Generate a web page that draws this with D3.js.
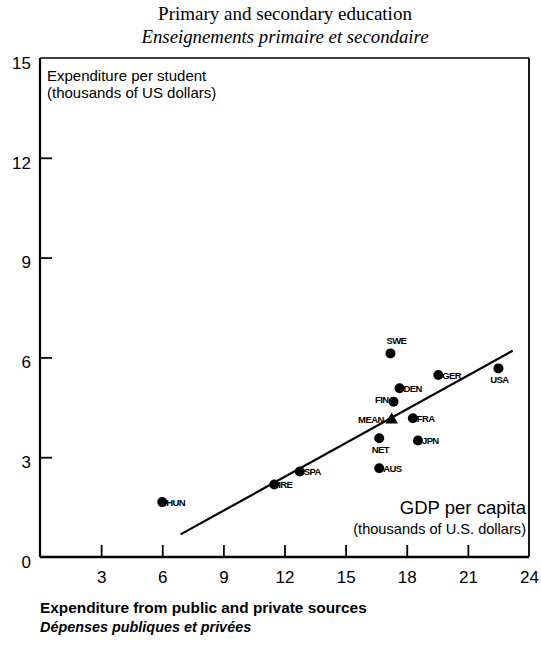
<!DOCTYPE html>
<html>
<head>
<meta charset="utf-8">
<script src="https://cdn.jsdelivr.net/npm/d3@7/dist/d3.min.js"></script>
<style>
  html, body { margin: 0; padding: 0; background: #fff; }
  svg { display: block; }
</style>
</head>
<body>
<svg id="chart" width="541" height="645"></svg>
<script>
// ---- data ----
const countries = ["SWE", "GER", "USA", "DEN", "FIN", "FRA", "NET", "JPN", "AUS", "SPA", "IRE", "HUN"];
const gdpPerCapita = [17.2, 19.55, 22.5, 17.65, 17.35, 18.3, 16.65, 18.55, 16.65, 12.75, 11.5, 6.0];
const expenditurePerStudent = [6.12, 5.47, 5.67, 5.07, 4.67, 4.17, 3.57, 3.5, 2.67, 2.57, 2.18, 1.65];
const meanPoint = { label: "MEAN", gdp: 17.26, exp: 4.12 };
const trendX = [6.9, 23.2];
const trendY = [0.68, 6.2];
const xTicks = [3, 6, 9, 12, 15, 18, 21, 24];
const yTicks = [0, 3, 6, 9, 12, 15];

const titleEn = "Primary and secondary education";
const titleFr = "Enseignements primaire et secondaire";
const yTitle = ["Expenditure per student", "(thousands of US dollars)"];
const xTitle = ["GDP per capita", "(thousands of U.S. dollars)"];
const footer = ["Expenditure from public and private sources", "Dépenses publiques et privées"];

// label placement relative to marker
const placement = {
  SWE: "above", GER: "right", USA: "below", DEN: "right", FIN: "left",
  FRA: "right", NET: "below", JPN: "right", AUS: "right", SPA: "right",
  IRE: "right", HUN: "right"
};

// ---- drawing ----
const svg = d3.select("#chart");
const x = d3.scaleLinear().domain([0, 24]).range([40, 529]);
const y = d3.scaleLinear().domain([0, 15]).range([557, 58]);

const sans = "'Liberation Sans', Arial, sans-serif";
const serif = "'Liberation Serif', 'Times New Roman', serif";

// titles
svg.append("text").attr("x", 285).attr("y", 20).attr("text-anchor", "middle")
  .attr("font-family", serif).attr("font-size", 19).text(titleEn);
svg.append("text").attr("x", 285).attr("y", 43).attr("text-anchor", "middle")
  .attr("font-family", serif).attr("font-size", 18.8).attr("font-style", "italic").text(titleFr);

// frame
const [x0, x1] = x.range();
const [yb, yt] = y.range();
svg.append("line").attr("x1", x0).attr("x2", x1).attr("y1", yt).attr("y2", yt)
  .attr("stroke", "#000").attr("stroke-width", 1.6);
svg.append("line").attr("x1", x1).attr("x2", x1).attr("y1", yt).attr("y2", yb)
  .attr("stroke", "#000").attr("stroke-width", 1.8);
svg.append("line").attr("x1", x0).attr("x2", x0).attr("y1", yt).attr("y2", yb)
  .attr("stroke", "#000").attr("stroke-width", 2.2);
svg.append("line").attr("x1", x0).attr("x2", x1).attr("y1", yb).attr("y2", yb)
  .attr("stroke", "#000").attr("stroke-width", 2.4);

// axes
const yAxis = svg.append("g").attr("transform", `translate(${x0},0)`)
  .call(d3.axisLeft(y).tickValues(yTicks).tickSize(-12).tickPadding(9).tickFormat(d3.format("d")));
yAxis.select(".domain").remove();
yAxis.selectAll(".tick line").attr("stroke-width", 1.8)
  .attr("display", d => (d === 0 || d === 15) ? "none" : null);
yAxis.selectAll(".tick text").attr("font-family", sans).attr("font-size", 17)
  .attr("fill", "#000").attr("dy", "0.6em");

const xAxis = svg.append("g").attr("transform", `translate(0,${yb})`)
  .call(d3.axisBottom(x).tickValues(xTicks).tickSize(-12).tickPadding(14).tickFormat(d3.format("d")));
xAxis.select(".domain").remove();
xAxis.selectAll(".tick line").attr("stroke-width", 1.8)
  .attr("display", d => d === 24 ? "none" : null);
xAxis.selectAll(".tick text").attr("font-family", sans).attr("font-size", 17).attr("fill", "#000");

// axis titles in the box
svg.append("text").attr("font-family", sans).attr("font-size", 15)
  .selectAll("tspan").data(yTitle).join("tspan")
  .attr("x", 47).attr("y", (d, i) => 81 + i * 17).text(d => d);

svg.append("text").attr("font-family", sans).attr("text-anchor", "end")
  .selectAll("tspan").data(xTitle).join("tspan")
  .attr("font-size", (d, i) => i === 0 ? 18.5 : 14.6)
  .attr("x", 526).attr("y", (d, i) => 514 + i * 20).text(d => d);

// trend line
svg.append("line")
  .attr("x1", x(trendX[0])).attr("y1", y(trendY[0]))
  .attr("x2", x(trendX[1])).attr("y2", y(trendY[1]))
  .attr("stroke", "#000").attr("stroke-width", 2.2);

// points
const pts = countries.map((c, i) => ({ c, gx: gdpPerCapita[i], ey: expenditurePerStudent[i] }));
svg.append("g").selectAll("circle").data(pts).join("circle")
  .attr("cx", d => x(d.gx)).attr("cy", d => y(d.ey)).attr("r", 5).attr("fill", "#000");

// mean triangle
const mx = x(meanPoint.gdp), my = y(meanPoint.exp);
svg.append("path")
  .attr("d", d3.symbol().type(d3.symbolTriangle).size(70)())
  .attr("transform", `translate(${mx},${my})`).attr("fill", "#000");

// labels
const lab = svg.append("g").attr("font-family", sans).attr("font-size", 9.5)
  .attr("font-weight", "bold").attr("letter-spacing", -0.6);
pts.forEach(d => {
  const px = x(d.gx), py = y(d.ey);
  const p = placement[d.c];
  const t = lab.append("text").text(d.c);
  if (p === "right") t.attr("x", px + 4).attr("y", py + 3.5);
  else if (p === "left") t.attr("x", px - 5).attr("y", py + 1).attr("text-anchor", "end");
  else if (p === "above") t.attr("x", px + 6).attr("y", py - 9).attr("text-anchor", "middle");
  else if (p === "below") t.attr("x", px + 1).attr("y", py + 15).attr("text-anchor", "middle");
});
lab.append("text").attr("x", mx - 8).attr("y", my + 3).attr("text-anchor", "end").text(meanPoint.label);

// footer
svg.append("text").attr("x", 40).attr("y", 613).attr("font-family", sans).attr("font-size", 15.4)
  .attr("font-weight", "bold").text(footer[0]);
svg.append("text").attr("x", 40).attr("y", 632).attr("font-family", sans).attr("font-size", 14.4)
  .attr("font-weight", "bold").attr("font-style", "italic").text(footer[1]);
</script>
</body>
</html>
